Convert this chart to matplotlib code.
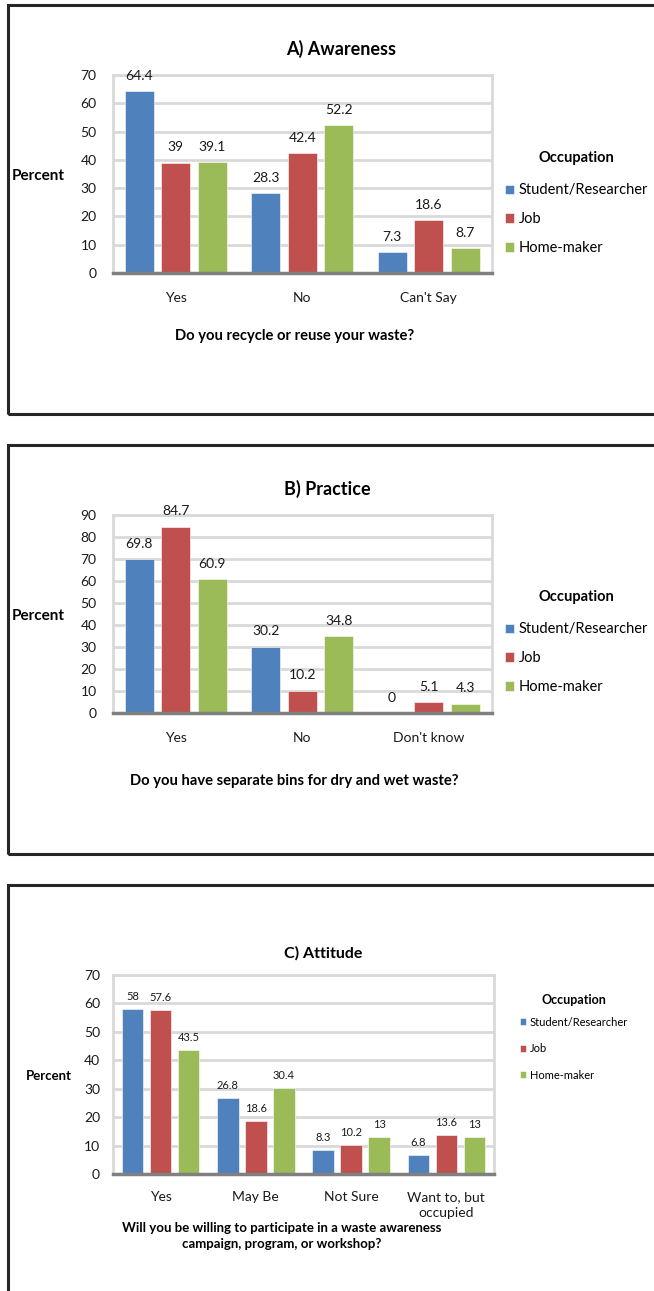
import matplotlib.pyplot as plt
from matplotlib.patches import Rectangle
import numpy as np

plt.rcParams['font.family'] = ['Lato', 'DejaVu Sans']

occupations = ['Student/Researcher', 'Job', 'Home-maker']
colors = ['#4F81BD', '#C0504D', '#9BBB59']

# A) Awareness
aware_cats = ['Yes', 'No', "Can't Say"]
aware_student = [64.4, 28.3, 7.3]
aware_job = [39, 42.4, 18.6]
aware_home = [39.1, 52.2, 8.7]

# B) Practice
practice_cats = ['Yes', 'No', "Don't know"]
practice_student = [69.8, 30.2, 0]
practice_job = [84.7, 10.2, 5.1]
practice_home = [60.9, 34.8, 4.3]

# C) Attitude
attitude_cats = ['Yes', 'May Be', 'Not Sure', 'Want to, but\noccupied']
attitude_student = [58, 26.8, 8.3, 6.8]
attitude_job = [57.6, 18.6, 10.2, 13.6]
attitude_home = [43.5, 30.4, 13, 13]

W, H = 654, 1291
fig = plt.figure(figsize=(W / 100, H / 100), dpi=100)


def fx(px):
    return px / W


def fy(py):
    return 1 - py / H


def panel_box(top, bottom):
    fig.patches.append(Rectangle((fx(7.5), fy(bottom)), fx(700), fy(top) - fy(bottom),
                                 transform=fig.transFigure, fill=False,
                                 edgecolor='#262626', linewidth=2.2, clip_on=False))


def chart(box, cats, series, ymax, title, title_xy, xlabel, xlabel_xy, percent_xy, leg_xy,
          fs, width, step, xpad, ypad):
    left, right, top, bottom = box
    ax = fig.add_axes([fx(left), fy(bottom), fx(right - left), fy(top) - fy(bottom)])
    x = np.arange(len(cats))
    bars = []
    for i, vals in enumerate(series):
        b = ax.bar(x + (i - 1) * step, vals, width, color=colors[i], zorder=3,
                   edgecolor='white', linewidth=0.4, label=occupations[i])
        bars.append(b)
        for xi, v in zip(x + (i - 1) * step, vals):
            ax.annotate(f'{v:g}', (xi, v), xytext=(0, fs['lbl_off']),
                        textcoords='offset points', ha='center', va='center',
                        fontsize=fs['lbl'], color='#1a1a1a')
    ax.set_xlim(-0.5, len(cats) - 0.5)
    ax.set_ylim(0, ymax)
    ax.set_yticks(np.arange(0, ymax + 1, 10))
    ax.set_xticks(x)
    ax.set_xticklabels(cats, linespacing=1.45)
    ax.grid(axis='y', color='#d9d9d9', linewidth=2, zorder=0)
    ax.set_axisbelow(True)
    for s in ['left', 'right', 'top']:
        ax.spines[s].set_color('#d9d9d9')
        ax.spines[s].set_linewidth(2)
    ax.spines['bottom'].set_color('#808080')
    ax.spines['bottom'].set_linewidth(2.5)
    ax.spines['bottom'].set_zorder(4)
    ax.tick_params(axis='x', length=0, pad=xpad, labelsize=10, labelcolor='#1a1a1a')
    ax.tick_params(axis='y', length=0, pad=ypad, labelsize=10, labelcolor='#1a1a1a')

    fig.text(fx(title_xy[0]), fy(title_xy[1]), title, ha='center', va='center',
             fontsize=fs['title'], fontweight='bold')
    fig.text(fx(xlabel_xy[0]), fy(xlabel_xy[1]), xlabel, ha='center', va='center',
             fontsize=fs['xlabel'], fontweight='bold', linespacing=1.45)
    fig.text(fx(percent_xy[0]), fy(percent_xy[1]), 'Percent', ha='center', va='center',
             fontsize=fs['percent'], fontweight='bold')
    leg = fig.legend(handles=bars, loc='upper left', bbox_to_anchor=(fx(leg_xy[0]), fy(leg_xy[1])),
                     bbox_transform=fig.transFigure, frameon=False, title='Occupation',
                     fontsize=fs['leg'], handlelength=0.6, handleheight=0.6, handletextpad=0.3,
                     labelspacing=fs['leg_space'], borderpad=0)
    leg.get_title().set_fontweight('bold')
    leg.get_title().set_fontsize(fs['leg_title'])
    leg._legend_box.sep = fs['leg_sep']
    return ax


big = dict(lbl=10, lbl_off=11, title=13, xlabel=10.6, percent=11, leg=10.5, leg_title=10.5,
           leg_space=1.02, leg_sep=13)
small = dict(lbl=8, lbl_off=9, title=11.5, xlabel=9.5, percent=9.5, leg=8, leg_title=9,
             leg_space=1.4, leg_sep=8)

panel_box(5, 414)
chart((112.5, 492, 75, 273), aware_cats, [aware_student, aware_job, aware_home], 70,
      'A) Awareness', (341, 49), 'Do you recycle or reuse your waste?', (295, 336),
      (38, 176), (498, 144), big, 0.23, 0.29, 14, 11.5)

panel_box(445, 854)
chart((112.5, 492, 515, 713), practice_cats, [practice_student, practice_job, practice_home], 90,
      'B) Practice', (327, 489), 'Do you have separate bins for dry and wet waste?', (294, 781),
      (38, 616), (498, 583), big, 0.23, 0.29, 14, 11.5)

panel_box(885, 1400)
chart((113, 494, 975, 1174), attitude_cats, [attitude_student, attitude_job, attitude_home], 70,
      'C) Attitude', (323, 953),
      'Will you be willing to participate in a waste awareness\ncampaign, program, or workshop?',
      (282, 1236), (49, 1076), (514, 988), small, 0.226, 0.295, 12, 9.4)

plt.savefig('out.png', dpi=100)
